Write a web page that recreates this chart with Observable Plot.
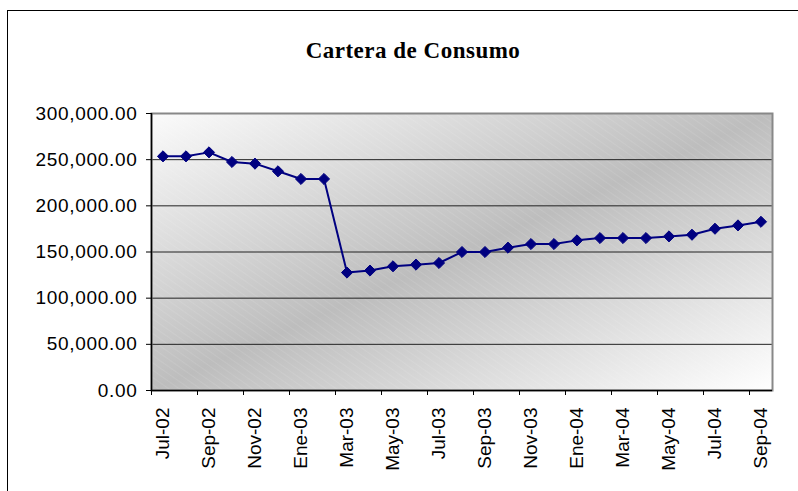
<!DOCTYPE html>
<html>
<head>
<meta charset="utf-8">
<script src="https://cdn.jsdelivr.net/npm/d3@7"></script>
<script src="https://cdn.jsdelivr.net/npm/@observablehq/plot@0.6"></script>
<style>
  html, body { margin: 0; padding: 0; background: #fff; overflow: hidden; }
  #wrap { position: relative; width: 798px; height: 491px; overflow: hidden; background: #fff; }
  #frame { position: absolute; left: 7px; top: 10px; width: 1000px; height: 1000px; border-left: 1px solid #000; border-top: 1px solid #000; pointer-events: none; z-index: 3; }
  #title { position: absolute; left: 0; width: 826px; top: 38px; text-align: center; font-family: "Liberation Serif", "Times New Roman", serif; font-weight: bold; font-size: 23px; letter-spacing: 0.5px; color: #000; z-index: 2; }
  #chart { position: absolute; left: 0; top: 0; z-index: 1; }
  g[aria-label="y-axis tick label"] text { letter-spacing: 0.7px; }
</style>
</head>
<body>
<div id="wrap">
  <div id="chart"></div>
  <div id="title">Cartera de Consumo</div>
  <div id="frame"></div>
</div>
<script>
// Categories (months) and values
const months = ["Jul-02","Ago-02","Sep-02","Oct-02","Nov-02","Dic-02","Ene-03","Feb-03","Mar-03","Abr-03","May-03","Jun-03","Jul-03","Ago-03","Sep-03","Oct-03","Nov-03","Dic-03","Ene-04","Feb-04","Mar-04","Abr-04","May-04","Jun-04","Jul-04","Ago-04","Sep-04"];
const values = [253600, 253600, 257900, 247500, 245700, 237400, 229100, 229100, 127700, 129900, 134500, 136300, 138100, 150000, 150000, 154700, 158600, 158600, 162600, 165100, 165100, 165100, 166900, 168700, 175200, 178800, 182700];
const yTicks = [0, 50000, 100000, 150000, 200000, 250000, 300000];

const data = months.map((m, i) => ({i, month: m, value: values[i]}));
const labelIdx = months.map((m, i) => i).filter(i => i % 2 === 0);
const boundaryTicks = labelIdx.map(i => i - 0.5);

const svg = Plot.plot({
  width: 798,
  height: 491,
  marginLeft: 151,
  marginRight: 26,
  marginTop: 113,
  marginBottom: 101,
  style: {fontFamily: "'Liberation Sans', Arial, sans-serif", fontSize: "19px", color: "#000", background: "transparent"},
  x: {type: "linear", domain: [-0.5, months.length - 0.5], axis: null},
  y: {domain: [0, 300000], axis: null},
  marks: [
    Plot.frame({fill: "url(#bgGrad)", stroke: "none"}),
    Plot.frame({fill: "url(#stripes)", stroke: "none"}),
    Plot.gridY(yTicks, {stroke: "#222", strokeOpacity: 1, strokeWidth: 1}),
    Plot.frame({stroke: "#888", strokeWidth: 2}),
    Plot.ruleX([-0.5], {stroke: "#000", strokeWidth: 1.5}),
    Plot.ruleY([0], {stroke: "#000", strokeWidth: 1.5}),
    Plot.axisY({ticks: yTicks, tickSize: 5, tickPadding: 9, tickFormat: d3.format(",.2f"), label: null, fontSize: 19}),
    Plot.axisX({ticks: boundaryTicks, tickSize: 5, tickFormat: () => "", label: null}),
    Plot.axisX({ticks: labelIdx, tickSize: 0, tickPadding: 17, tickRotate: -90, tickFormat: i => months[i], label: null, fontSize: 19}),
    Plot.line(data, {x: "i", y: "value", stroke: "#000080", strokeWidth: 2}),
    Plot.dot(data, {x: "i", y: "value", symbol: "diamond2", r: 5, fill: "#000080", stroke: "#000080", strokeWidth: 1})
  ]
});

const defs = d3.select(svg).insert("defs", ":first-child");
const g = defs.append("linearGradient").attr("id", "bgGrad")
  .attr("x1", "0").attr("y1", "0").attr("x2", "1").attr("y2", "1");
g.append("stop").attr("offset", "0%").attr("stop-color", "#fbfbfb");
g.append("stop").attr("offset", "50%").attr("stop-color", "#bdbdbd");
g.append("stop").attr("offset", "100%").attr("stop-color", "#ffffff");
const p = defs.append("pattern").attr("id", "stripes").attr("patternUnits", "userSpaceOnUse")
  .attr("width", 6).attr("height", 6).attr("patternTransform", "rotate(-55)");
p.append("line").attr("x1", 0).attr("y1", 0).attr("x2", 0).attr("y2", 6)
  .attr("stroke", "#fff").attr("stroke-opacity", 0.18).attr("stroke-width", 1);

document.getElementById("chart").appendChild(svg);
</script>
</body>
</html>
